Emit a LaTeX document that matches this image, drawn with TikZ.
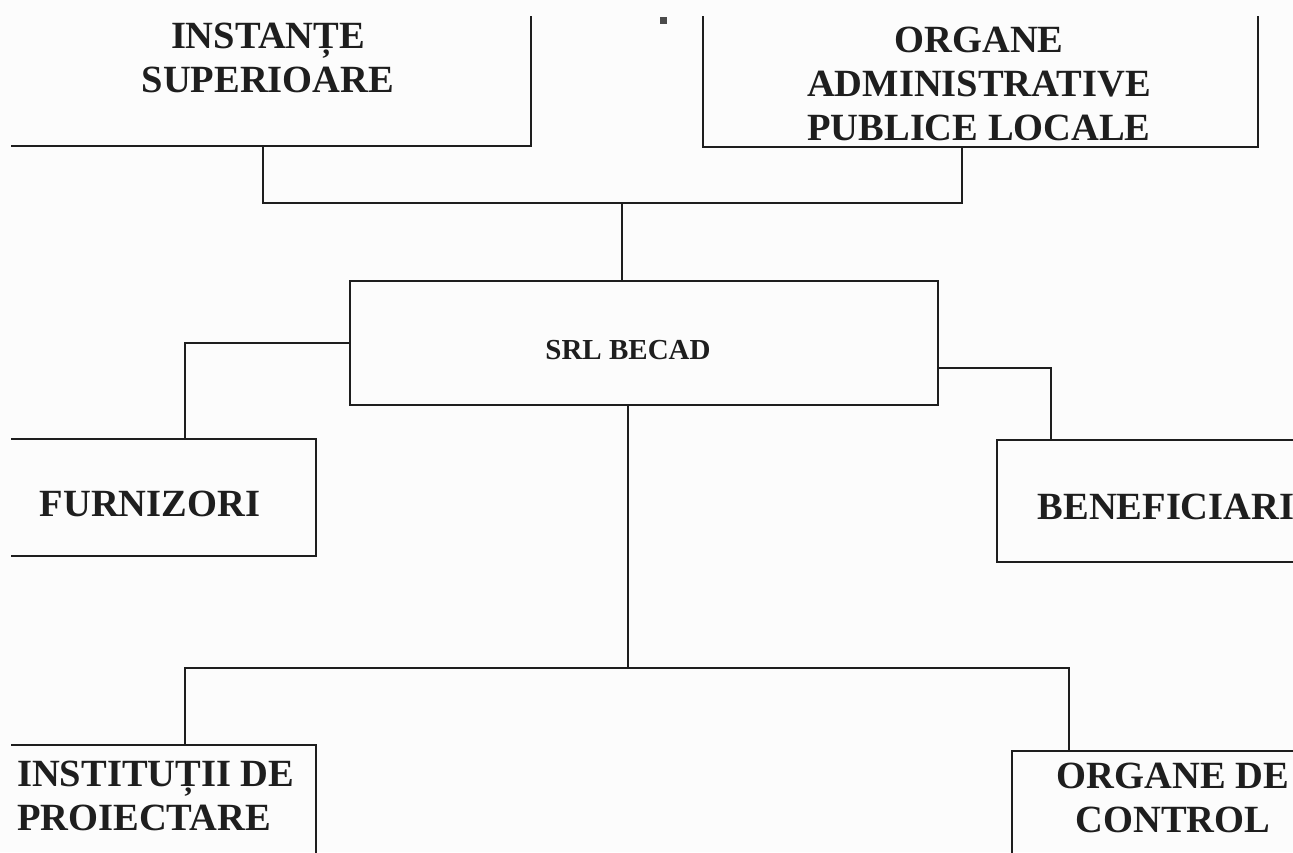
\documentclass[tikz,border=0pt]{standalone}
\usepackage{fontspec}
\setmainfont{Liberation Serif}
\usetikzlibrary{calc}
\definecolor{ink}{HTML}{1E1E1E}
\definecolor{paper}{HTML}{FCFCFC}
\begin{document}
\begin{tikzpicture}[x=1pt,y=-1pt,
  box/.style={draw=ink, line width=2.6pt, rectangle, inner sep=0pt},
  conn/.style={draw=ink, line width=2.6pt},
  lbl/.style={font=\fontsize{38.5}{44}\selectfont\bfseries, text=ink, align=center, inner sep=0pt},
  small/.style={font=\fontsize{29}{34}\selectfont\bfseries}]
\fill[paper] (0,0) rectangle (1293,852);
\useasboundingbox (0,0) rectangle (1293,852);
\begin{scope}
  \clip (11,16) rectangle (1293,852);
  \node[box, minimum width=536, minimum height=176] (inst) at (263,58) {};
  \node[box, minimum width=555, minimum height=157] (org) at (980.5,68.5) {};
  \node[box, minimum width=588, minimum height=124] (srl) at (644,343) {};
  \node[box, minimum width=332, minimum height=117] (furn) at (150,497.5) {};
  \node[box, minimum width=338, minimum height=122] (bene) at (1166,501) {};
  \node[box, minimum width=336, minimum height=155] (inti) at (148,822.5) {};
  \node[box, minimum width=322, minimum height=149] (ctrl) at (1173,825.5) {};
\end{scope}
\node[fill=ink!80, minimum size=7, inner sep=0pt] (bullet) at (663,20) {};
\node[lbl] (tinst) at (268,58) {INSTANȚE\\SUPERIOARE};
\node[lbl] (torg) at (979,84) {ORGANE\\ADMINISTRATIVE\\PUBLICE LOCALE};
\node[lbl, small] (tsrl) at (628,350) {SRL BECAD};
\node[lbl] (tfurn) at (150,503.5) {FURNIZORI};
\node[lbl] (tbene) at (1166,507) {BENEFICIARI};
\node[lbl, align=left, anchor=west] (tinti) at (17,796) {INSTITUȚII DE\\PROIECTARE};
\node[lbl] (tctrl) at (1173,797.5) {ORGANE DE\\CONTROL};
\coordinate (tj) at (622,203);
\coordinate (bj) at (628,668);
\draw[conn] (inst.south) |- (tj);
\draw[conn] ([xshift=-18.5pt]org.south) |- (tj);
\draw[conn] (tj) -- (tj |- srl.north);
\draw[conn] (srl.west) -| ([xshift=35pt]furn.north);
\draw[conn] ($(srl.east)+(0,25)$) -| ([xshift=-115pt]bene.north);
\draw[conn] (srl.south -| bj) -- (bj);
\draw[conn] ([xshift=37pt]inti.north) |- (bj) -| ([xshift=-104pt]ctrl.north);
\end{tikzpicture}
\end{document}
